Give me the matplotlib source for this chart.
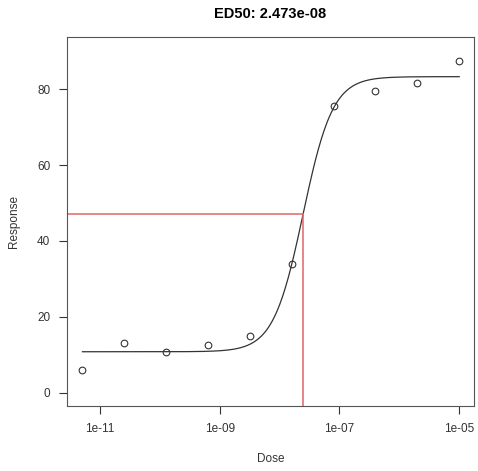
import numpy as np
import matplotlib
matplotlib.use("Agg")
import matplotlib.pyplot as plt

plt.rcParams['font.family'] = ['Liberation Sans', 'DejaVu Sans']

# observed data
dose = [5.12e-12, 2.56e-11, 1.28e-10, 6.4e-10, 3.2e-9, 1.6e-8, 8e-8, 4e-7, 2e-6, 1e-5]
response = [6.0, 13.2, 10.7, 12.6, 15.0, 34.0, 75.5, 79.5, 81.7, 87.5]

# fitted log-logistic parameters
lower = 10.8
upper = 83.3
ed50 = 2.473e-8
slope = 1.75

fig = plt.figure(figsize=(4.78, 4.71), dpi=100)
ax = fig.add_axes([0.140, 0.138, 0.852, 0.783])

xs = np.logspace(np.log10(min(dose)), np.log10(max(dose)), 400)
ys = lower + (upper - lower) / (1 + (xs / ed50) ** (-slope))
ax.plot(xs, ys, color='#333333', lw=0.9)

ax.plot(dose, response, 'o', mfc='none', mec='#333333', ms=4.8, mew=0.8)

mid = (lower + upper) / 2
ax.set_xscale('log')
ax.set_xlim(10 ** -11.55, 10 ** -4.75)
ax.set_ylim(-3.5, 93.7)

x0 = ax.get_xlim()[0]
y0 = ax.get_ylim()[0]
ax.plot([x0, ed50], [mid, mid], color='#e06666', lw=1.1)
ax.plot([ed50, ed50], [y0, mid], color='#e06666', lw=1.1)

ax.set_xticks([1e-11, 1e-9, 1e-7, 1e-5])
ax.set_xticklabels(['1e-11', '1e-09', '1e-07', '1e-05'])
ax.minorticks_off()
ax.set_yticks([0, 20, 40, 60, 80])
ax.tick_params(direction='out', length=6, width=0.8, colors='#333333', labelsize=8.5, pad=6)
for s in ax.spines.values():
    s.set_color('#555555')
    s.set_linewidth(0.8)

ax.set_xlabel('Dose', fontsize=8.5, color='#333333', labelpad=13)
ax.set_ylabel('Response', fontsize=8.5, color='#333333', labelpad=12)
ax.set_title('ED50: 2.473e-08', fontsize=10.5, fontweight='bold', pad=14)

fig.savefig('out.png', dpi=100)
